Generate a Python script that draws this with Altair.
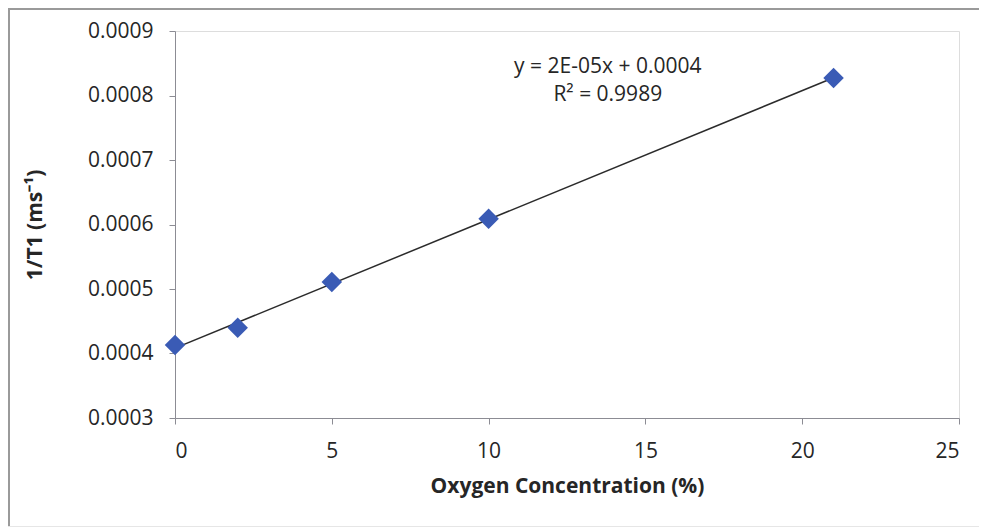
import altair as alt
import pandas as pd

# Data
oxygen = [0, 2, 5, 10, 21]
inv_t1 = [0.000413, 0.000440, 0.000511, 0.000609, 0.000827]

eq_lines = ["y = 2E-05x + 0.0004", "R² = 0.9989"]
eq_x = [13.8, 13.8]
eq_y = [0.000844, 0.000801]

x_ticks = [0, 5, 10, 15, 20, 25]
y_ticks = [0.0003, 0.0004, 0.0005, 0.0006, 0.0007, 0.0008, 0.0009]

df = pd.DataFrame({"x": oxygen, "y": inv_t1})
eq_df = pd.DataFrame({"t": eq_lines, "x": eq_x, "y": eq_y})

FONT = "Open Sans"
AXIS_COLOR = "#8c8c94"
TEXT_COLOR = "#262626"

x_scale = alt.Scale(domain=[0, 25], nice=False, zero=False)
y_scale = alt.Scale(domain=[0.0003, 0.0009], nice=False, zero=False)

x_axis = alt.Axis(
    values=x_ticks, format="d", title="Oxygen Concentration (%)",
    grid=False, domainColor=AXIS_COLOR, tickColor=AXIS_COLOR, tickSize=6,
    labelFont=FONT, labelFontSize=21, labelColor=TEXT_COLOR, labelPadding=16,
    titleFont=FONT, titleFontSize=21, titleFontWeight="bold", titleColor=TEXT_COLOR,
    titlePadding=14,
)
y_axis = alt.Axis(
    values=y_ticks, format=".4f", title="1/T1 (ms⁻¹)",
    grid=False, domainColor=AXIS_COLOR, tickColor=AXIS_COLOR, tickSize=6,
    labelFont=FONT, labelFontSize=21, labelColor=TEXT_COLOR, labelPadding=16,
    titleFont=FONT, titleFontSize=21, titleFontWeight="bold", titleColor=TEXT_COLOR,
    titlePadding=42,
)

base = alt.Chart(df)

trend = base.mark_line(color="#2b2b2b", strokeWidth=1.5).encode(
    x=alt.X("x:Q", scale=x_scale, axis=x_axis),
    y=alt.Y("y:Q", scale=y_scale, axis=y_axis),
).transform_regression("x", "y", extent=[0, 21])

points = base.mark_point(
    shape="diamond", filled=True, size=420, color="#3a5bb5", opacity=1
).encode(
    x=alt.X("x:Q", scale=x_scale),
    y=alt.Y("y:Q", scale=y_scale),
)

eq = alt.Chart(eq_df).mark_text(
    font=FONT, fontSize=21, color=TEXT_COLOR, align="center", baseline="middle"
).encode(
    x=alt.X("x:Q", scale=x_scale),
    y=alt.Y("y:Q", scale=y_scale),
    text="t:N",
)

# outer frame lines (decoration)
frame_left = alt.Chart(df).mark_rule(color="#9a9a9a", strokeWidth=2).encode(
    x=alt.value(-166), y=alt.value(-23), y2=alt.value(500)
)
frame_top = alt.Chart(df).mark_rule(color="#9a9a9a", strokeWidth=2).encode(
    y=alt.value(-22), x=alt.value(-167), x2=alt.value(820)
)
frame_bottom = alt.Chart(df).mark_rule(color="#e6e6e6", strokeWidth=1).encode(
    y=alt.value(495.5), x=alt.value(-167), x2=alt.value(820)
)

chart = alt.layer(frame_left, frame_top, frame_bottom, trend, points, eq).properties(
    width=784,
    height=387,
    autosize=alt.AutoSizeParams(type="none"),
    padding={"left": 167, "top": 23, "right": 20, "bottom": 109},
).configure_view(stroke=None).configure(background="white")

chart.save("out.html", embed_options={"renderer": "svg", "actions": False})
